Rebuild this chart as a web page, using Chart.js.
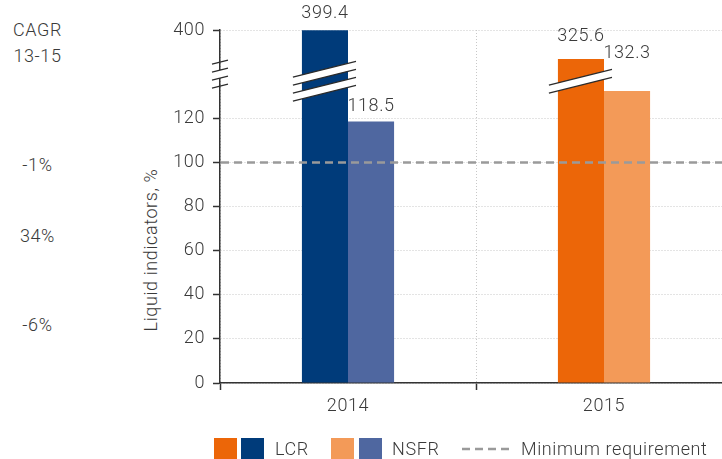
<!DOCTYPE html>
<html>
<head>
<meta charset="utf-8">
<script src="https://cdn.jsdelivr.net/npm/chart.js@4.4.1/dist/chart.umd.min.js"></script>
<style>
html, body { margin: 0; padding: 0; background: #fff; overflow: hidden; }
body {
    width: 722px; height: 459px; position: relative;
    font-family: Roboto, "Liberation Sans", sans-serif; font-weight: 300;
    color: #3a3a3a; letter-spacing: 0.6px;
}
#wrap { position: absolute; left: 0; top: 0; width: 732px; height: 459px; }
.side { position: absolute; left: 0; width: 75px; text-align: center; font-size: 18px; line-height: 20px; }
#ytitle {
    position: absolute; left: 150px; top: 250px; white-space: nowrap; font-size: 18px;
    transform: translate(-50%, -50%) rotate(-90deg);
}
.sw { position: absolute; top: 438px; width: 23px; height: 21px; }
.lg { position: absolute; top: 438px; line-height: 22px; font-size: 18px; white-space: nowrap; }
</style>
</head>
<body>
<div class="side" style="top:20px">CAGR</div>
<div class="side" style="top:46px">13-15</div>
<div class="side" style="top:155px">-1%</div>
<div class="side" style="top:226px">34%</div>
<div class="side" style="top:315px">-6%</div>

<div id="ytitle">Liquid indicators, %</div>

<div id="wrap"><canvas id="chart"></canvas></div>

<div class="sw" style="left:214px;background:#ec6608"></div>
<div class="sw" style="left:241px;background:#003b7a"></div>
<div class="lg" style="left:275px">LCR</div>
<div class="sw" style="left:331px;background:#f39a58"></div>
<div class="sw" style="left:359px;background:#4f67a0"></div>
<div class="lg" style="left:392px">NSFR</div>
<svg style="position:absolute;left:462px;top:447px" width="50" height="4">
    <line x1="0" y1="2" x2="50" y2="2" stroke="#9a9a9a" stroke-width="2.5" stroke-dasharray="8,5"/>
</svg>
<div class="lg" style="left:521px">Minimum requirement</div>

<script>
// ==========================
// DATA
// ==========================

const years = ["2014", "2015"];

const lcr = [399.4, 325.6];
const nsfr = [118.5, 132.3];

const minRequirement = 100;

const yTickValues = [0, 20, 40, 60, 80, 100, 120, 400];


// ==========================
// BROKEN AXIS
// ==========================

// up to breakFrom the axis is linear, above it the values are squeezed
const breakFrom = 140;
const topValue = 400;
const topAxis = 160;
const upperSlope = 0.177;

function toAxis(v) {
    if (v <= breakFrom) return v;
    return topAxis - (topValue - v) * upperSlope;
}

const fontFamily = "Roboto, 'Liberation Sans', sans-serif";
const textColor = "#3a3a3a";

const lcrColors = ["#003b7a", "#ec6608"];
const nsfrColors = ["#4f67a0", "#f39a58"];

// gap between bar top and its value label, per dataset / category
const labelGap = [[8, 14], [6, 29]];

// number of white cuts drawn on each tall bar
const barCuts = [2, 1];


const breakPlugin = {

    id: "breaks",

    afterDatasetsDraw(chart) {

        const ctx = chart.ctx;
        const area = chart.chartArea;
        const y = chart.scales.y;

        // minimum requirement line
        const yMin = y.getPixelForValue(toAxis(minRequirement));

        ctx.save();
        ctx.strokeStyle = "#9a9a9a";
        ctx.lineWidth = 2.5;
        ctx.setLineDash([8, 5]);
        ctx.beginPath();
        ctx.moveTo(area.left + 1, yMin);
        ctx.lineTo(area.right, yMin);
        ctx.stroke();
        ctx.restore();

    },

    afterDraw(chart) {

        const ctx = chart.ctx;
        const area = chart.chartArea;
        const y = chart.scales.y;
        const cy = y.getPixelForValue(breakFrom);

        const slant = (x0, off, xc, baseY) => baseY + off - 0.25 * (x0 - xc);

        ctx.save();
        ctx.setLineDash([]);

        // break on the y axis
        const ax = area.left;
        ctx.fillStyle = "#fff";
        ctx.fillRect(ax - 2, cy - 4, 4, 8);
        ctx.strokeStyle = "#2a2a2a";
        ctx.lineWidth = 1.2;
        [-12, -4, 4, 12].forEach(off => {
            ctx.beginPath();
            ctx.moveTo(ax - 8, slant(ax - 8, off, ax, cy));
            ctx.lineTo(ax + 8, slant(ax + 8, off, ax, cy));
            ctx.stroke();
        });

        // cuts on the tall bars
        const meta = chart.getDatasetMeta(0);
        meta.data.forEach((bar, i) => {

            if (lcr[i] <= breakFrom) return;

            const x0 = bar.x - bar.width / 2 - 9;
            const x1 = bar.x + bar.width / 2 + 8;
            const by = cy + 7;
            const pairs = barCuts[i] === 2 ? [[-12, -4], [4, 12]] : [[-4, 4]];

            pairs.forEach(([a, b]) => {

                ctx.fillStyle = "#fff";
                ctx.beginPath();
                ctx.moveTo(x0, slant(x0, a, bar.x, by));
                ctx.lineTo(x1, slant(x1, a, bar.x, by));
                ctx.lineTo(x1, slant(x1, b, bar.x, by));
                ctx.lineTo(x0, slant(x0, b, bar.x, by));
                ctx.closePath();
                ctx.fill();

                [a, b].forEach(off => {
                    ctx.beginPath();
                    ctx.moveTo(x0, slant(x0, off, bar.x, by));
                    ctx.lineTo(x1, slant(x1, off, bar.x, by));
                    ctx.stroke();
                });

            });

        });

        // value labels
        ctx.fillStyle = textColor;
        ctx.font = "300 18px " + fontFamily;
        ctx.letterSpacing = "0.6px";
        ctx.textAlign = "center";
        ctx.textBaseline = "bottom";

        [lcr, nsfr].forEach((values, d) => {
            chart.getDatasetMeta(d).data.forEach((bar, i) => {
                ctx.fillText(values[i].toFixed(1), bar.x, bar.y - labelGap[d][i]);
            });
        });

        ctx.restore();

    }

};


new Chart(document.getElementById("chart"), {

    type: "bar",

    data: {

        labels: years,

        datasets: [

            {
                label: "LCR",
                data: lcr.map(toAxis),
                backgroundColor: lcrColors,
                borderWidth: 0,
                barPercentage: 1,
                categoryPercentage: 0.36
            },

            {
                label: "NSFR",
                data: nsfr.map(toAxis),
                backgroundColor: nsfrColors,
                borderWidth: 0,
                barPercentage: 1,
                categoryPercentage: 0.36
            }

        ]

    },

    options: {

        responsive: true,
        maintainAspectRatio: false,
        animation: false,
        devicePixelRatio: 1,

        layout: {
            padding: { left: 0, top: 30, right: 0, bottom: 36 }
        },

        plugins: {
            legend: { display: false },
            tooltip: { enabled: false }
        },

        scales: {

            x: {
                afterFit: s => { s.height = 40; },
                ticks: {
                    color: textColor,
                    padding: 6,
                    font: { family: fontFamily, size: 18, weight: 300 }
                },
                grid: {
                    offset: true,
                    color: "#c8c8c8",
                    lineWidth: 1,
                    tickLength: 7,
                    tickColor: "#333",
                    tickWidth: 1.5
                },
                border: { color: "#333", width: 1.5, dash: [1, 2] }
            },

            y: {
                min: 0,
                max: topAxis,
                afterFit: s => { s.width = 220; },
                afterBuildTicks: s => {
                    s.ticks = yTickValues.map(v => ({ value: toAxis(v) }));
                },
                ticks: {
                    color: textColor,
                    padding: 8,
                    font: { family: fontFamily, size: 18, weight: 300 },
                    callback: (val, i) => String(yTickValues[i])
                },
                grid: {
                    color: "#c8c8c8",
                    lineWidth: 1,
                    tickLength: 7,
                    tickColor: "#333",
                    tickWidth: 1.5
                },
                border: { color: "#333", width: 1.5, dash: [1, 2] }
            }

        }

    },

    plugins: [breakPlugin]

});
</script>
</body>
</html>
